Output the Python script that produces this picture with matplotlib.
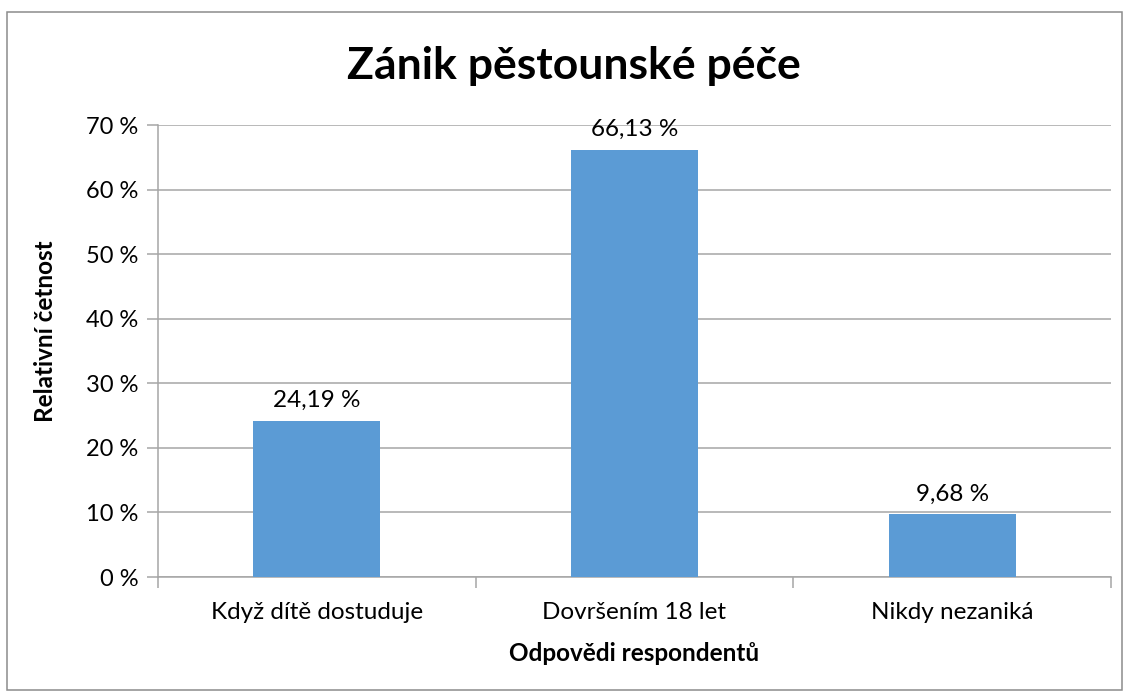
import matplotlib
matplotlib.use("Agg")
import matplotlib.pyplot as plt
from matplotlib.patches import Rectangle
from matplotlib.ticker import FixedLocator, FuncFormatter

categories = ["Když dítě dostuduje", "Dovršením 18 let", "Nikdy nezaniká"]
values = [24.19, 66.13, 9.68]
yticks = [0, 10, 20, 30, 40, 50, 60, 70]

FONT = ["Lato", "DejaVu Sans"]
plt.rcParams['font.family'] = FONT

fig = plt.figure(figsize=(11.30, 6.95), dpi=100)
ax = fig.add_axes([158/1130, 1 - 577/695, (1111-158)/1130, (577-125)/695])

grid_c = "#a6a6a6"
x = range(len(categories))
ax.bar(x, values, width=0.4, color="#5B9BD5", zorder=3)
for xi, v in zip(x, values):
    ax.annotate(f"{v:.2f} %".replace(".", ","), (xi, v), xytext=(0, 7),
                textcoords="offset points", ha="center", va="bottom", fontsize=17.5)

ax.set_xlim(-0.5, len(categories) - 0.5)
ax.set_ylim(0, 70)
ax.set_yticks(yticks)
ax.yaxis.set_major_formatter(FuncFormatter(lambda v, p: f"{int(v)} %"))
ax.yaxis.grid(True, color=grid_c, linewidth=1.1, zorder=0)
ax.set_xticks(list(x))
ax.set_xticklabels(categories, fontsize=17.5)
ax.xaxis.set_minor_locator(FixedLocator([-0.5, 0.5, 1.5, 2.5]))
ax.tick_params(axis="x", which="major", length=0, pad=18)
ax.tick_params(axis="x", which="minor", length=8, color=grid_c, width=1.1)
ax.tick_params(axis="y", length=8, color=grid_c, width=1.1, labelsize=17, pad=6)

for s in ["top", "right"]:
    ax.spines[s].set_visible(False)
ax.spines["left"].set_color(grid_c)
ax.spines["bottom"].set_color(grid_c)
ax.spines["left"].set_linewidth(1.1)
ax.spines["bottom"].set_linewidth(1.1)

ax.set_xlabel("Odpovědi respondentů", fontsize=17.5, fontweight="bold", labelpad=14)
ax.set_ylabel("Relativní četnost", fontsize=17.5, fontweight="bold")
ax.yaxis.set_label_coords((57 - 158) / 953, (577 - 331) / 452)

fig.text(574/1130, 1 - 66/695, "Zánik pěstounské péče", ha="center", va="center",
         fontsize=32, fontweight="bold")

fig.patches.append(Rectangle((7/1130, 1 - 690/695), (1122-7)/1130, (690-12)/695,
                             transform=fig.transFigure, fill=False,
                             edgecolor="#8c8c8c", linewidth=1.1))

fig.savefig("out.png", dpi=100)
